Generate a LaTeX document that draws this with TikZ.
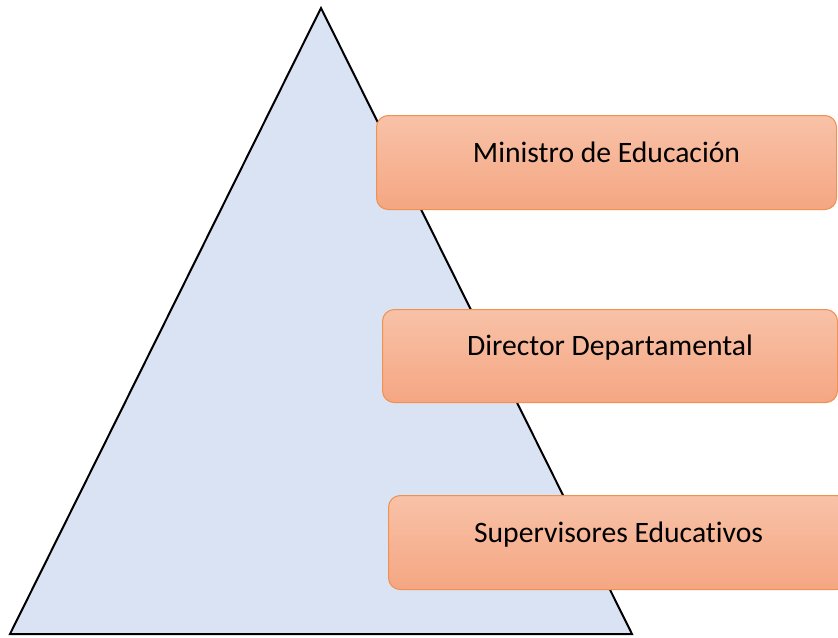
\documentclass[tikz,border=0pt]{standalone}
\usepackage{fontspec}
\setmainfont[Ligatures=NoCommon]{Carlito}
\usepackage{tikz}
\definecolor{trifill}{HTML}{DAE3F3}
\definecolor{boxtop}{HTML}{F8C2A8}
\definecolor{boxbot}{HTML}{F5A682}
\definecolor{boxline}{HTML}{F0914F}
\tikzset{
    TR/.style ={draw=black, line width=1.7pt, line join=miter, fill=trifill},
    RB/.style ={rectangle, rounded corners=10pt, draw=boxline, line width=0.9pt,
        top color=boxtop, bottom color=boxbot, anchor=north west,
        font=\fontsize{25.3}{28}\selectfont, text height=0.7em, text depth=0.76em,
        inner sep=0pt}}
\begin{document}
\begin{tikzpicture}[x=0.03cm,y=-0.03cm]
        \useasboundingbox (0,0) rectangle (838,637);
        \clip (0,0) rectangle (838,637);
        \draw[TR] (321,8) -- (632,634) -- (10,634) -- cycle;
        \node[RB, minimum width=460*0.03cm, minimum height=94*0.03cm] (min) at (376,115) {Ministro de Educación};
        \node[RB, minimum width=455*0.03cm, minimum height=93*0.03cm] (dir) at (382,309) {Director Departamental};
        \node[RB, minimum width=460*0.03cm, minimum height=94*0.03cm] (sup) at (388,495) {Supervisores Educativos};
    \end{tikzpicture}
\end{document}
